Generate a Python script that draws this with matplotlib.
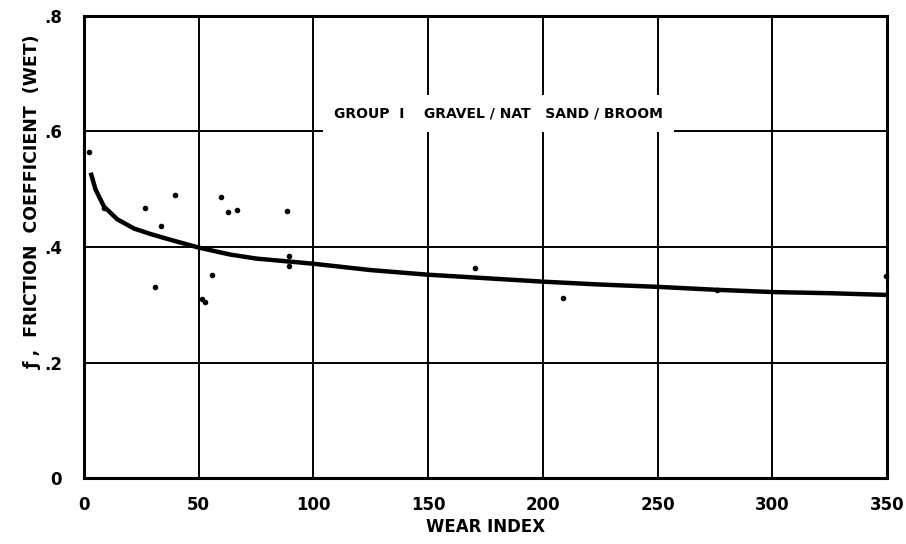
import matplotlib
matplotlib.use('Agg')
import matplotlib.pyplot as plt

# Scattered test points (wear index, wet friction coefficient)
pts_x = [2.2, 8.8, 26.7, 31.1, 33.7, 39.8, 51.3, 52.9, 55.9, 59.7, 62.6, 66.8,
         88.6, 89.2, 89.2, 170.4, 208.8, 276.0, 349.5]
pts_y = [0.565, 0.467, 0.468, 0.330, 0.436, 0.490, 0.310, 0.305, 0.352, 0.486,
         0.460, 0.464, 0.463, 0.385, 0.367, 0.363, 0.312, 0.326, 0.349]

# Fitted curve
curve_x = [3.2, 5, 8.7, 14.5, 21.8, 29, 36.3, 43.6, 50, 63.6, 75, 100, 125,
           150, 175, 200, 225, 250, 275, 300, 325, 350]
curve_y = [0.525, 0.500, 0.470, 0.448, 0.432, 0.4225, 0.414, 0.406, 0.399,
           0.387, 0.380, 0.371, 0.360, 0.352, 0.346, 0.340, 0.335, 0.331,
           0.326, 0.322, 0.320, 0.317]

x_ticks  = [0, 50, 100, 150, 200, 250, 300, 350]
y_ticks  = [0, 0.2, 0.4, 0.6, 0.8]
y_labels = ['0', '.2', '.4', '.6', '.8']

plt.rcParams['font.family'] = 'DejaVu Sans'
plt.rcParams['font.weight'] = 'bold'

fig = plt.figure(figsize=(9.06, 5.44), dpi=100)
ax = fig.add_axes([0.0927, 0.1213, 0.8866, 0.8493])

ax.set_xlim(0, 350)
ax.set_ylim(0, 0.8)
ax.set_xticks(x_ticks)
ax.set_xticklabels([str(t) for t in x_ticks])
ax.set_yticks(y_ticks)
ax.set_yticklabels(y_labels)
ax.tick_params(length=0, labelsize=12)
ax.tick_params(axis='x', pad=13)
ax.tick_params(axis='y', pad=16)
for lab in ax.get_xticklabels() + ax.get_yticklabels():
    lab.set_fontweight('bold')

ax.set_axisbelow(True)
ax.grid(True, color='black', linewidth=1.4)
for sp in ax.spines.values():
    sp.set_linewidth(2.2)

ax.plot(curve_x, curve_y, color='black', linewidth=3.2, zorder=3)
ax.scatter(pts_x, pts_y, s=9, color='black', zorder=4, clip_on=False)

ax.text(180.5, 0.631, 'GROUP  I    GRAVEL / NAT   SAND / BROOM',
        ha='center', va='center', fontsize=10, fontweight='bold', zorder=2,
        bbox=dict(facecolor='white', edgecolor='none', pad=8))

ax.set_xlabel('WEAR INDEX', fontsize=12, fontweight='bold', labelpad=3)
fig.text(0.036, 0.63, 'ƒ ,  FRICTION  COEFFICIENT  (WET)', rotation=90,
         ha='center', va='center', fontsize=12.5, fontweight='bold')

fig.savefig('out.png', dpi=100)
